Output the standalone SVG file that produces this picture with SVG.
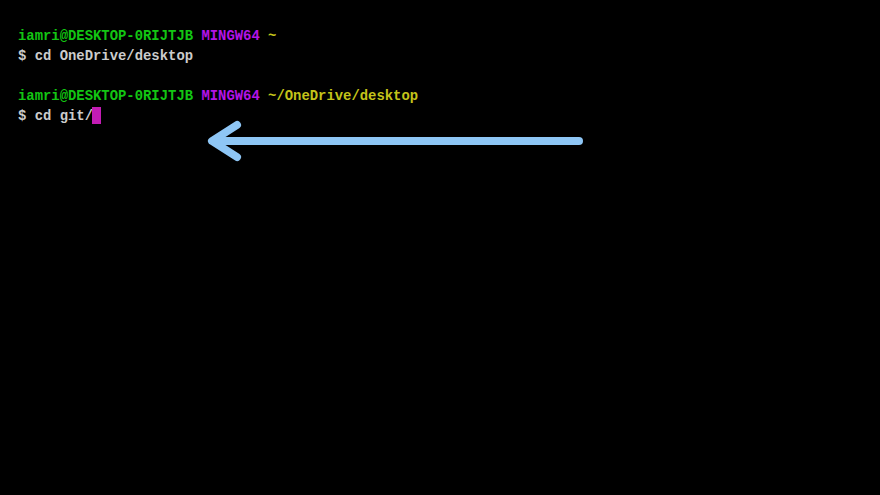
<svg xmlns="http://www.w3.org/2000/svg" width="880" height="495" viewBox="0 0 880 495">
<style>
text{font-family:"Liberation Mono","DejaVu Sans Mono",monospace;font-size:13.9px;font-weight:bold;white-space:pre}
.g{fill:#13c613}.p{fill:#b414e6}.y{fill:#c4c41a}.w{fill:#cccccc}
</style>
<rect width="880" height="495" fill="#000"/>
<g id="terminal">
<text x="18" y="40"><tspan class="g">iamri@DESKTOP-0RIJTJB </tspan><tspan class="p">MINGW64 </tspan><tspan class="y">~</tspan></text>
<text x="18" y="60" class="w">$ cd OneDrive/desktop</text>
<text x="18" y="100"><tspan class="g">iamri@DESKTOP-0RIJTJB </tspan><tspan class="p">MINGW64 </tspan><tspan class="y">~/OneDrive/desktop</tspan></text>
<text x="18" y="120" class="w">$ cd git/</text>
<rect x="92" y="107" width="9" height="17" fill="#c31cb4"/>
</g>
<g id="connectors" fill="none" stroke="#8ec6f5" stroke-width="8" stroke-linecap="round" stroke-linejoin="round">
<line x1="579" y1="141" x2="214" y2="141"/>
<polyline points="237,125 212,141 237,157"/>
</g>
</svg>
